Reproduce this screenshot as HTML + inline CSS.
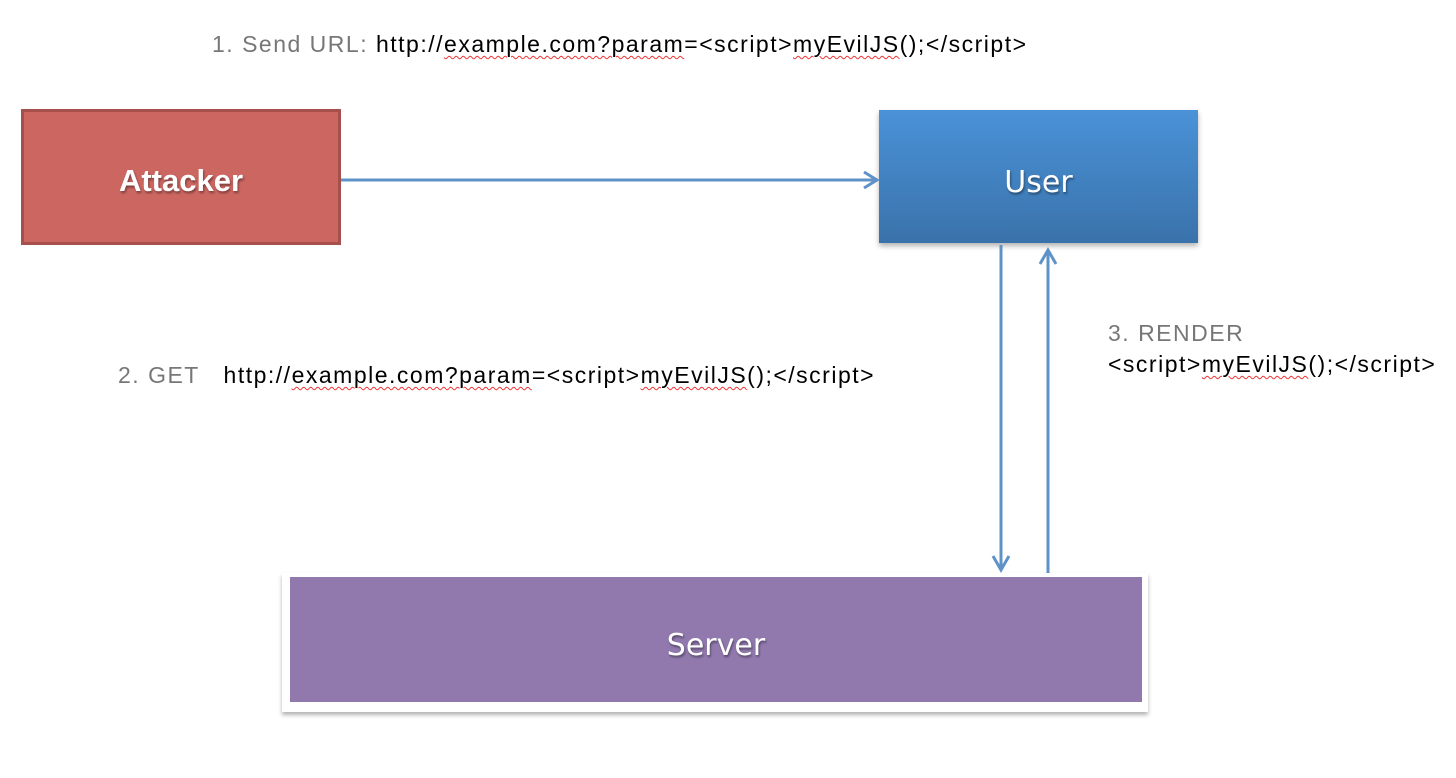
<!DOCTYPE html>
<html><head><style>
body{margin:0;width:1456px;height:778px;background:#fff;position:relative;overflow:hidden;font-family:"Liberation Sans",sans-serif}
.t{position:absolute;font-size:23px;color:#000;white-space:nowrap;letter-spacing:1.5px}
.g{color:#777}
.u{text-decoration:underline wavy #e33;text-decoration-thickness:1px;text-underline-offset:3px}
.box{position:absolute;display:flex;align-items:center;justify-content:center;color:#fff;font-family:"DejaVu Sans",sans-serif;font-size:30px;text-shadow:1px 2px 2px rgba(0,0,0,.4)}
</style></head><body>
<div class="t" style="left:212px;top:31px"><span class="g">1. Send URL:</span> http://<span class="u">example.com?param</span>=&lt;script&gt;<span class="u">myEvilJS</span>();&lt;/script&gt;</div>
<div class="t" style="left:118px;top:362px"><span class="g">2. GET</span>&nbsp;&nbsp; http://<span class="u">example.com?param</span>=&lt;script&gt;<span class="u">myEvilJS</span>();&lt;/script&gt;</div>
<div class="t" style="left:1108px;top:320px"><span class="g">3. RENDER</span></div>
<div class="t" style="left:1108px;top:351px">&lt;script&gt;<span class="u">myEvilJS</span>();&lt;/script&gt;</div>

<div class="box" style="left:21px;top:109px;width:320px;height:136px;box-sizing:border-box;background:#cc6661;border:3px solid #a5504c;font-family:'Liberation Sans',sans-serif;font-weight:bold;font-size:31px;padding-top:8px">Attacker</div>
<div class="box" style="left:879px;top:110px;width:319px;height:133px;box-sizing:border-box;padding-top:12px;background:linear-gradient(#4a92d8,#3a72aa);box-shadow:0 3px 5px rgba(0,0,0,.3)">User</div>
<div style="position:absolute;left:282px;top:573px;width:866px;height:139px;background:#fff;box-shadow:0 3px 4px rgba(0,0,0,.3)"></div>
<div class="box" style="left:290px;top:577px;width:852px;height:125px;box-sizing:border-box;padding-top:12px;background:#9179ae">Server</div>

<svg style="position:absolute;left:0;top:0" width="1456" height="778">
<g stroke="#5f93c8" stroke-width="3" fill="none">
<line x1="341" y1="180" x2="876" y2="180"/>
<polyline points="864,172 877,180 864,188"/>
<line x1="1001" y1="245" x2="1001" y2="570"/>
<polyline points="993,556 1001,570 1009,556"/>
<line x1="1048" y1="573" x2="1048" y2="250"/>
<polyline points="1040,264 1048,250 1056,264"/>
</g>
</svg>
</body></html>
